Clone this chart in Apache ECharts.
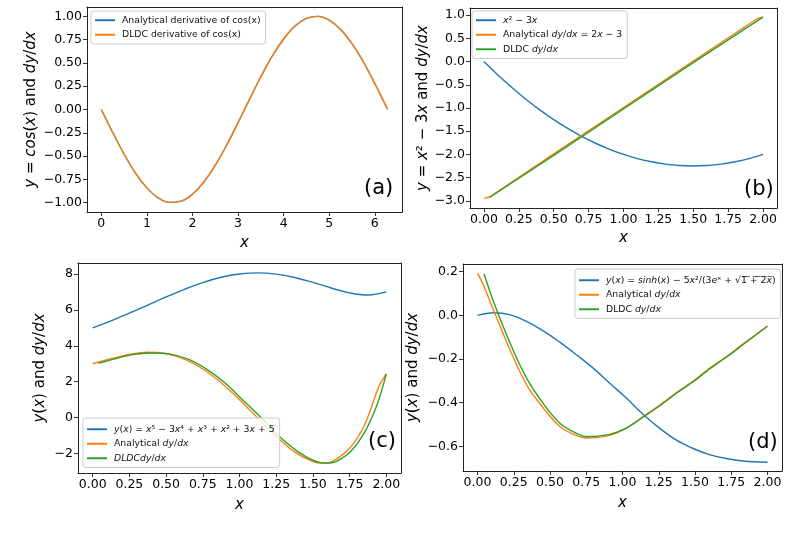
<!DOCTYPE html>
<html>
<head>
<meta charset="utf-8">
<script src="https://cdn.jsdelivr.net/npm/echarts@6/dist/echarts.min.js"></script>
<style>html,body{margin:0;padding:0;background:#fff}#main{width:789px;height:540px}</style>
</head>
<body>
<div id="main"></div>
<script>
/* panel (a) - derivative of cos(x) */
var aX = [0,0.25,0.5,0.75,1.0,1.25,1.5,1.75,2.0,2.25,2.5,2.75,3.0,3.25,3.5,3.75,4.0,4.25,4.5,4.75,5.0,5.25,5.5,5.75,6.0,6.25,6.28];
var aAnalytic = [0,-0.247,-0.479,-0.682,-0.841,-0.949,-0.997,-0.984,-0.909,-0.778,-0.598,-0.382,-0.141,0.108,0.351,0.572,0.757,0.895,0.978,0.999,0.959,0.859,0.706,0.510,0.279,0.033,0.003];
var aDldc = [0,-0.247,-0.479,-0.682,-0.841,-0.949,-0.997,-0.984,-0.909,-0.778,-0.598,-0.382,-0.141,0.108,0.351,0.572,0.757,0.895,0.978,0.999,0.959,0.859,0.706,0.510,0.279,0.033,0.003];
var aXTicks = [0,1,2,3,4,5,6];
var aYTicks = [-1,-0.75,-0.5,-0.25,0,0.25,0.5,0.75,1];

/* panel (b) - x^2-3x */
var bX = [0,0.1,0.2,0.3,0.4,0.5,0.6,0.7,0.8,0.9,1.0,1.1,1.2,1.3,1.4,1.5,1.6,1.7,1.8,1.9,2.0];
var bY = [0,-0.29,-0.56,-0.81,-1.04,-1.25,-1.44,-1.61,-1.76,-1.89,-2.0,-2.09,-2.16,-2.21,-2.24,-2.25,-2.24,-2.21,-2.16,-2.09,-2.0];
var bAnaX = [0,0.04,0.5,1.0,1.5,1.96,2.0];
var bAnaY = [-2.95,-2.92,-1.99,-0.99,0.01,0.93,0.96];
var bDldcX = [0.04,0.5,1.0,1.5,2.0];
var bDldcY = [-2.93,-2.02,-1.02,-0.02,0.96];
var bXTicks = [0,0.25,0.5,0.75,1.0,1.25,1.5,1.75,2.0];
var bYTicks = [-3,-2.5,-2,-1.5,-1,-0.5,0,0.5,1];

/* panel (c) - polynomial */
var cX = [0,0.125,0.25,0.375,0.5,0.625,0.75,0.875,1.0,1.125,1.25,1.375,1.5,1.625,1.75,1.875,2.0];
var cY = [5,5.392,5.817,6.266,6.719,7.147,7.522,7.814,8.0,8.062,7.993,7.806,7.531,7.218,6.948,6.828,7.0];
var cAnaX = [0,0.125,0.25,0.375,0.5,0.625,0.75,0.875,1.0,1.125,1.25,1.375,1.5,1.5625,1.625,1.75,1.85,1.95,2.0];
var cAnaY = [3.0,3.28,3.52,3.64,3.56,3.26,2.71,1.94,1.0,-0.03,-1.04,-1.9,-2.44,-2.53,-2.46,-1.7,-0.44,1.75,2.44];
var cDldcX = [0.04,0.15,0.27,0.4,0.52,0.65,0.77,0.9,1.02,1.15,1.27,1.4,1.52,1.59,1.66,1.76,1.86,1.94,2.0];
var cDldcY = [3.02,3.27,3.51,3.6,3.55,3.26,2.73,1.94,1.0,-0.03,-1.04,-1.9,-2.44,-2.53,-2.43,-1.86,-0.69,0.79,2.44];
var cXTicks = [0,0.25,0.5,0.75,1.0,1.25,1.5,1.75,2.0];
var cYTicks = [-2,0,2,4,6,8];

/* panel (d) - sinh */
var dX = [0,0.112,0.227,0.341,0.456,0.57,0.685,0.8,0.914,1.03,1.143,1.258,1.372,1.487,1.6,1.716,1.83,2.0];
var dY = [0,0.012,0.002,-0.029,-0.072,-0.124,-0.182,-0.243,-0.312,-0.381,-0.454,-0.518,-0.572,-0.61,-0.638,-0.656,-0.667,-0.673];
var dAnaX = [0,0.04,0.11,0.23,0.34,0.46,0.57,0.68,0.75,0.91,1.03,1.14,1.26,1.37,1.49,1.6,1.72,1.83,2.0];
var dAnaY = [0.193,0.14,0.025,-0.167,-0.32,-0.43,-0.51,-0.55,-0.562,-0.55,-0.515,-0.465,-0.41,-0.355,-0.3,-0.243,-0.188,-0.132,-0.049];
var dDldcX = [0.045,0.11,0.23,0.34,0.46,0.57,0.68,0.75,0.91,1.03,1.14,1.26,1.37,1.49,1.6,1.72,1.83,2.0];
var dDldcY = [0.19,0.063,-0.136,-0.29,-0.41,-0.495,-0.54,-0.556,-0.545,-0.515,-0.467,-0.413,-0.358,-0.303,-0.246,-0.19,-0.135,-0.05];
var dXTicks = [0,0.25,0.5,0.75,1.0,1.25,1.5,1.75,2.0];
var dYTicks = [-0.6,-0.4,-0.2,0,0.2];

var FONT = 'DejaVu Sans';
var BLUE = '#1f77b4', ORANGE = '#ff7f0e', GREEN = '#2ca02c';
var FRAME = '#222';

var legendText = {
    a1: 'Analytical derivative of cos(x)',
    a2: 'DLDC derivative of cos(x)',
    b1: '{i|x}\u00b2 \u2212 3{i|x}',
    b2: 'Analytical {i|dy}/{i|dx} = 2{i|x} \u2212 3',
    b3: 'DLDC {i|dy}/{i|dx}',
    c1: '{i|y}({i|x}) = {i|x}\u2075 \u2212 3{i|x}\u2074 + {i|x}\u00b3 + {i|x}\u00b2 + 3{i|x} + 5',
    c2: 'Analytical {i|dy}/{i|dx}',
    c3: '{i|DLDCdy}/{i|dx}',
    d1: '{i|y}({i|x}) = {i|sinh}({i|x}) \u2212 5{i|x}\u00b2/(3{i|e}\u02e3 + \u221a1\u0305 \u0305+\u0305 \u03052\u0305{i|x\u0305})',
    d2: 'Analytical {i|dy}/{i|dx}',
    d3: 'DLDC {i|dy}/{i|dx}'
};

function pairs(xs, ys) {
    var out = [];
    for (var i = 0; i < xs.length; i++) out.push([xs[i], ys[i]]);
    return out;
}
function fmt(d) {
    return function (v) { return v.toFixed(d).replace('-', '\u2212'); };
}
function makeX(gi, min, max, ticks, d, gap) {
    return {
        type: 'value', gridIndex: gi, min: min, max: max, position: 'bottom',
        name: 'x', nameLocation: 'middle', nameGap: gap,
        nameTextStyle: {fontFamily: FONT, fontSize: 15, fontStyle: 'italic', color: '#000'},
        axisLine: {show: true, onZero: false, lineStyle: {color: FRAME, width: 1}},
        axisTick: {show: true, length: 4, lineStyle: {color: '#000', width: 0.8}, customValues: ticks},
        axisLabel: {margin: 5, fontFamily: FONT, fontSize: 12.5, color: '#000', formatter: fmt(d), customValues: ticks},
        splitLine: {show: false}
    };
}
function makeY(gi, min, max, ticks, d, name, gap) {
    return {
        type: 'value', gridIndex: gi, min: min, max: max, position: 'left',
        name: name, nameLocation: 'middle', nameGap: gap, nameRotate: 90,
        nameTextStyle: {fontFamily: FONT, fontSize: 15, color: '#000',
            rich: {i: {fontFamily: FONT, fontSize: 15, fontStyle: 'italic', color: '#000'}}},
        axisLine: {show: true, onZero: false, lineStyle: {color: FRAME, width: 1}},
        axisTick: {show: true, length: 4, lineStyle: {color: '#000', width: 0.8}, customValues: ticks},
        axisLabel: {margin: 5, fontFamily: FONT, fontSize: 12.5, color: '#000', formatter: fmt(d), customValues: ticks},
        splitLine: {show: false}
    };
}
// top / right spines, no ticks or labels
function spine(gi, pos, min, max) {
    return {
        type: 'value', gridIndex: gi, min: min, max: max, position: pos,
        axisLine: {show: true, onZero: false, lineStyle: {color: FRAME, width: 1}},
        axisTick: {show: false}, axisLabel: {show: false}, splitLine: {show: false}
    };
}
function line(name, gi, xs, ys, color, smooth) {
    return {
        name: name, type: 'line', xAxisIndex: gi, yAxisIndex: gi,
        data: pairs(xs, ys), showSymbol: false, symbol: 'none',
        smooth: smooth,
        itemStyle: {color: color},
        lineStyle: {color: color, width: 1.4},
        animation: false
    };
}
function legendOf(names, left, top, pad) {
    return {
        data: names, orient: 'vertical', left: left, top: top, align: 'left',
        icon: 'rect', itemWidth: 20, itemHeight: 2, itemGap: 2,
        padding: pad, selectedMode: false,
        backgroundColor: 'rgba(255,255,255,0.8)', borderColor: '#cccccc', borderWidth: 1, borderRadius: 3,
        formatter: function (n) { return legendText[n]; },
        textStyle: {fontFamily: FONT, fontSize: 9.3, lineHeight: 12.5, color: '#111', padding: [0, 0, 0, 2],
            rich: {i: {fontFamily: FONT, fontSize: 9.3, lineHeight: 12.5, fontStyle: 'italic', color: '#111'}}}
    };
}
function gridOf(l, t, w, h) {
    return {left: l, top: t, width: w, height: h, show: false, outerBoundsMode: 'none'};
}
function panelTag(text, l, t) {
    return {type: 'text', left: l, top: t, style: {text: text, fontFamily: FONT, fontSize: 21, fill: '#000'}};
}

var chart = echarts.init(document.getElementById('main'));
var option = {
    backgroundColor: '#fff',
    animation: false,
    grid: [
        gridOf(87, 7, 315, 205),
        gridOf(470, 8, 307, 200),
        gridOf(78, 263, 323, 210),
        gridOf(463, 264, 319, 207)
    ],
    xAxis: [
        makeX(0, -0.314, 6.597, aXTicks, 0, 24),
        makeX(1, -0.1, 2.1, bXTicks, 2, 23),
        makeX(2, -0.1, 2.1, cXTicks, 2, 25),
        makeX(3, -0.1, 2.1, dXTicks, 2, 25),
        spine(0, 'top', -0.314, 6.597),
        spine(1, 'top', -0.1, 2.1),
        spine(2, 'top', -0.1, 2.1),
        spine(3, 'top', -0.1, 2.1)
    ],
    yAxis: [
        makeY(0, -1.1, 1.1, aYTicks, 2, '{i|y} = {i|cos}({i|x}) and {i|dy}/{i|dx}', 48),
        makeY(1, -3.156, 1.156, bYTicks, 1, '{i|y} = {i|x}\u00b2 \u2212 3{i|x} and {i|dy}/{i|dx}', 38),
        makeY(2, -3.08, 8.61, cYTicks, 0, '{i|y}({i|x}) and {i|dy}/{i|dx}', 30),
        makeY(3, -0.713, 0.235, dYTicks, 1, '{i|y}({i|x}) and {i|dy}/{i|dx}', 42),
        spine(0, 'right', -1.1, 1.1),
        spine(1, 'right', -3.156, 1.156),
        spine(2, 'right', -3.08, 8.61),
        spine(3, 'right', -0.713, 0.235)
    ],
    legend: [
        legendOf(['a1', 'a2'], 91, 11, [3, 5, 3, 4]),
        legendOf(['b1', 'b2', 'b3'], 472, 11, [3, 5, 3, 4]),
        legendOf(['c1', 'c2', 'c3'], 83, 418, [5, 5, 3, 4]),
        legendOf(['d1', 'd2', 'd3'], 575, 269, [5, 5, 3, 4])
    ],
    graphic: [
        panelTag('(a)', 364, 178),
        panelTag('(b)', 744, 179),
        panelTag('(c)', 368, 431),
        panelTag('(d)', 748, 432)
    ],
    series: [
        line('a1', 0, aX, aAnalytic, BLUE, 0.4),
        line('a2', 0, aX, aDldc, ORANGE, 0.4),
        line('b1', 1, bX, bY, BLUE, 0.4),
        line('b2', 1, bAnaX, bAnaY, ORANGE, false),
        line('b3', 1, bDldcX, bDldcY, GREEN, false),
        line('c1', 2, cX, cY, BLUE, 0.4),
        line('c2', 2, cAnaX, cAnaY, ORANGE, 0.3),
        line('c3', 2, cDldcX, cDldcY, GREEN, 0.3),
        line('d1', 3, dX, dY, BLUE, 0.4),
        line('d2', 3, dAnaX, dAnaY, ORANGE, 0.3),
        line('d3', 3, dDldcX, dDldcY, GREEN, 0.3)
    ]
};
chart.setOption(option);
</script>
</body>
</html>
